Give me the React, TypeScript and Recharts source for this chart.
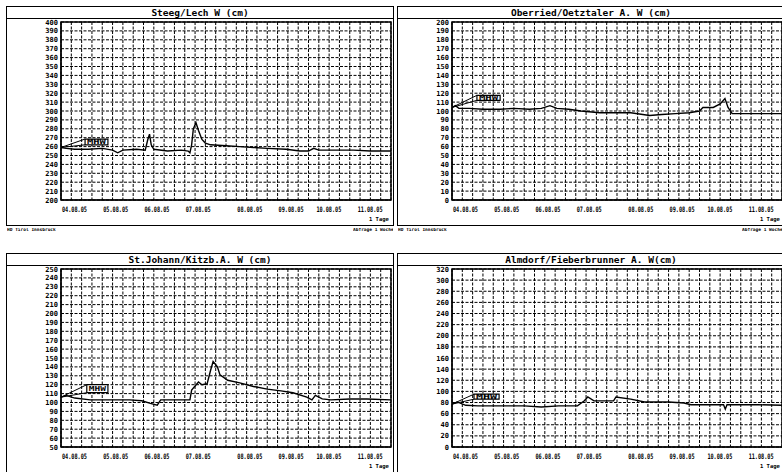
import { LineChart, Line, XAxis, YAxis, CartesianGrid, ReferenceArea, ReferenceLine } from 'recharts';

// Wasserstand (cm) over one week, [hours since start, value]
const STEEG_LECH: [number, number][] = [
  [0, 259], [3, 258], [8, 257], [16, 257], [24, 258], [30, 256], [33, 253], [36, 256], [44, 257], [49, 256],
  [50.5, 268], [51.5, 274], [52.5, 262], [54, 257], [62, 255], [70, 256], [74, 255], [75, 253], [76, 262],
  [77, 280], [78.5, 287], [80, 278], [82, 268], [84, 264], [87, 262], [96, 261], [104, 260], [112, 259],
  [120, 258], [131, 257], [139, 255], [144, 255], [147, 258], [150, 256], [160, 256], [170, 256], [180, 255], [192, 255],
];
const OBERRIED: [number, number][] = [
  [0, 104], [2, 106], [4, 103], [10, 103], [18, 102], [28, 102], [36, 103], [45, 102], [52, 103], [57, 106],
  [61, 103], [68, 102], [75, 100], [86, 98], [96, 98], [104, 98], [115, 95], [122, 96], [130, 97], [138, 98],
  [144, 100], [146, 104], [152, 104], [156, 108], [158.8, 114], [160.6, 104], [163, 97], [172, 97], [182, 97], [192, 97],
];
const ST_JOHANN: [number, number][] = [
  [0, 106], [3, 108], [8, 105], [17, 103], [30, 103], [40, 103], [47, 102], [52, 99], [56, 97], [58, 103],
  [66, 103], [75, 103], [76, 114], [80, 123], [82, 120], [85, 121], [87, 136], [88.5, 146], [91, 140],
  [92.5, 131], [97, 125], [104, 122], [112, 118], [120, 115], [128, 113], [135, 111], [143, 106], [146, 103],
  [148, 108], [152, 104], [157, 103], [168, 104], [178, 104], [192, 103],
];
const ALMDORF: [number, number][] = [
  [0, 77], [3, 81], [8, 75], [15, 74], [30, 74], [42, 74], [52, 72], [62, 74], [73, 74], [77, 83], [79, 90],
  [82.6, 83], [88, 83], [94, 83], [95.4, 90], [104, 86], [112, 81], [126, 81], [135, 79], [139, 76], [150, 76],
  [158, 76], [159, 68], [160, 76], [170, 76], [178, 76], [192, 75],
];

const STEEG_TICKS = [200, 210, 220, 230, 240, 250, 260, 270, 280, 290, 300, 310, 320, 330, 340, 350, 360, 370, 380, 390, 400];
const OBERRIED_TICKS = [0, 10, 20, 30, 40, 50, 60, 70, 80, 90, 100, 110, 120, 130, 140, 150, 160, 170, 180, 190, 200];
const JOHANN_TICKS = [50, 60, 70, 80, 90, 100, 110, 120, 130, 140, 150, 160, 170, 180, 190, 200, 210, 220, 230, 240, 250];
const ALMDORF_TICKS = [0, 20, 40, 60, 80, 100, 120, 140, 160, 180, 200, 220, 240, 260, 280, 300, 320];

const X_TICKS = [0, 24, 48, 72, 102, 126, 148, 172];
const X_LABELS = ['04.08.05', '05.08.05', '06.08.05', '07.08.05', '08.08.05', '09.08.05', '10.08.05', '11.08.05'];
const GRID_HOURS = Array.from({ length: 33 }, (_, i) => i * 6);

const MONO = '"DejaVu Sans Mono", monospace';

type Note = { x1: number; x2: number; y1: number; y2: number };

interface PanelProps {
  left: number;
  top: number;
  title: string;
  points: [number, number][];
  yTicks: number[];
  note: Note;
}

const XTick = ({ x, y, payload }: any) => {
  const i = X_TICKS.indexOf(payload.value);
  return (
    <text x={x + 1} y={y + 12} textAnchor="start" fontFamily={MONO} fontWeight="bold" fontSize={7.5}
      textLength={25} lengthAdjust="spacingAndGlyphs" fill="#000">
      {X_LABELS[i] ?? ''}
    </text>
  );
};

const YTick = ({ x, y, payload }: any) => (
  <text x={x - 3} y={y + 2.5} textAnchor="end" fontFamily={MONO} fontWeight="bold" fontSize={7} fill="#000">
    {payload.value}
  </text>
);

const NoteLabel = ({ viewBox }: any) => {
  const { x, y, width, height } = viewBox;
  return (
    <text x={x + 2} y={y + height / 2 + 2.5} fontFamily={MONO} fontWeight="bold" fontSize={7}
      textLength={Math.max(width - 4, 4)} lengthAdjust="spacingAndGlyphs" fill="#000">
      MHW
    </text>
  );
};

function Panel({ left, top, title, points, yTicks, note }: PanelProps) {
  const data = points.map(([t, w]) => ({ t, w }));
  const yMin = yTicks[0];
  const yMax = yTicks[yTicks.length - 1];
  const [t0, v0] = points[0];
  return (
    <div style={{ position: 'absolute', left, top, width: 388, height: 220, border: '1px solid #000', boxSizing: 'border-box', background: '#fff' }}>
      <div style={{ position: 'absolute', left: 0, top: 0, right: 0, height: 11, borderBottom: '1px solid #000', textAlign: 'center', fontFamily: MONO, fontWeight: 'bold', fontSize: 9.5, lineHeight: '11px' }}>
        {title}
      </div>
      <div style={{ position: 'absolute', left: -1, top: 11 }}>
        <LineChart width={388} height={205} data={data} margin={{ top: 4, right: 3, left: 0, bottom: 7 }}>
          <CartesianGrid stroke="#000" strokeDasharray="3 1.5" strokeWidth={1} verticalValues={GRID_HOURS} horizontalValues={yTicks} />
          <XAxis type="number" dataKey="t" domain={[0, 192]} ticks={X_TICKS} interval={0} tick={<XTick />}
            tickLine={false} tickSize={0} tickMargin={0} height={16} axisLine={{ stroke: '#000' }} allowDataOverflow />
          <YAxis type="number" domain={[yMin, yMax]} ticks={yTicks} interval={0} tick={<YTick />}
            tickLine={false} tickSize={0} tickMargin={0} width={55} axisLine={{ stroke: '#000' }} allowDataOverflow />
          <ReferenceArea x1={0} x2={192} y1={yMin} y2={yMax} fill="none" stroke="#000" strokeWidth={1.5} ifOverflow="visible" />
          <ReferenceLine segment={[{ x: t0, y: v0 }, { x: note.x1, y: note.y2 }]} stroke="#000" ifOverflow="visible" />
          <ReferenceLine segment={[{ x: t0, y: v0 }, { x: note.x1, y: note.y1 }]} stroke="#000" ifOverflow="visible" />
          <ReferenceArea x1={note.x1} x2={note.x2} y1={note.y1} y2={note.y2} fill="#fff" fillOpacity={1} stroke="#000" strokeWidth={1.2} ifOverflow="visible"
            label={<NoteLabel />} />
          <Line type="linear" dataKey="w" stroke="#000" strokeWidth={1.4} dot={false} isAnimationActive={false} />
        </LineChart>
      </div>
      <div style={{ position: 'absolute', left: 362, top: 210, fontFamily: MONO, fontWeight: 'bold', fontSize: 5.5, lineHeight: 1 }}>1 Tage</div>
    </div>
  );
}

const Footer = ({ left, top, text, width }: { left: number; top: number; text: string; width: number }) => (
  <div style={{ position: 'absolute', left, top, width, fontFamily: MONO, fontWeight: 'bold', fontSize: 4.5, lineHeight: 1, whiteSpace: 'nowrap', overflow: 'hidden' }}>{text}</div>
);

export default function App() {
  return (
    <div style={{ position: 'absolute', left: 0, top: 0, width: 782, height: 472, overflow: 'hidden', background: '#fff' }}>
      <Panel left={6} top={6} title="Steeg/Lech W (cm)" points={STEEG_LECH} yTicks={STEEG_TICKS} note={{ x1: 14, x2: 27.3, y1: 262, y2: 268.5 }} />
      <Panel left={397} top={6} title="Oberried/Oetztaler A. W (cm)" points={OBERRIED} yTicks={OBERRIED_TICKS} note={{ x1: 14.5, x2: 28, y1: 112, y2: 117.6 }} />
      <Panel left={6} top={253} title="St.Johann/Kitzb.A. W (cm)" points={ST_JOHANN} yTicks={JOHANN_TICKS} note={{ x1: 15, x2: 27.3, y1: 111, y2: 120 }} />
      <Panel left={397} top={253} title="Almdorf/Fieberbrunner A. W(cm)" points={ALMDORF} yTicks={ALMDORF_TICKS} note={{ x1: 12.8, x2: 27.4, y1: 86, y2: 95 }} />
      <Footer left={7} top={228} width={56} text="HD Tirol Innsbruck" />
      <Footer left={353} top={228} width={40} text="Abfrage 1 Woche" />
      <Footer left={398} top={228} width={55} text="HD Tirol Innsbruck" />
      <Footer left={742} top={228} width={40} text="Abfrage 1 Woche" />
    </div>
  );
}
